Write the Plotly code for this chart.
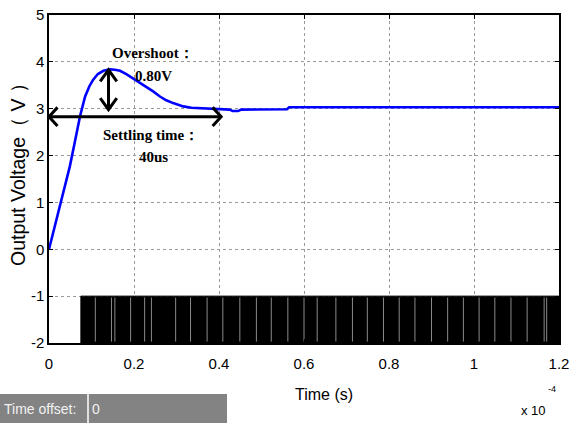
import plotly.graph_objects as go

# ---- data (time in units of 1e-4 s) ----
time_axis = [0, 0.013, 0.026, 0.038, 0.049, 0.061, 0.073, 0.085, 0.095, 0.104, 0.115,
             0.128, 0.144, 0.155, 0.167, 0.182, 0.198, 0.214, 0.230, 0.245, 0.261,
             0.276, 0.292, 0.316, 0.335, 0.355, 0.380, 0.402, 0.425, 0.432, 0.445,
             0.452, 0.48, 0.52, 0.56, 0.565, 0.6, 0.8, 1.0, 1.2]
voltage = [0, 0.47, 0.92, 1.35, 1.77, 2.30, 2.84, 3.26, 3.48, 3.62, 3.74,
           3.81, 3.84, 3.83, 3.81, 3.74, 3.65, 3.56, 3.47, 3.37, 3.26,
           3.18, 3.12, 3.05, 3.02, 3.01, 3.00, 2.99, 2.98, 2.95, 2.95,
           2.98, 2.98, 2.98, 2.99, 3.03, 3.03, 3.03, 3.03, 3.03]

pwm_start = 0.075
pwm_end = 1.2
pwm_low = -2
pwm_high = -1
pwm_gaps = [0.109, 0.147, 0.155, 0.192, 0.225, 0.241, 0.298, 0.333, 0.372, 0.409,
            0.449, 0.488, 0.523, 0.562, 0.600, 0.631, 0.675, 0.714, 0.749, 0.787,
            0.824, 0.861, 0.900, 0.938, 0.975, 1.012, 1.049, 1.087, 1.125, 1.165, 1.171]

overshoot_x = 0.14
overshoot_top = 3.83
overshoot_bottom = 2.98
settling_y = 2.83
settling_start = 0.0
settling_end = 0.405

x_ticks = [0, 0.2, 0.4, 0.6, 0.8, 1, 1.2]
x_tick_labels = ["0", "0.2", "0.4", "0.6", "0.8", "1", "1.2"]
y_ticks = [-2, -1, 0, 1, 2, 3, 4, 5]
y_tick_labels = ["-2", "-1", "0", "1", "2", "3", "4", "5"]

# ---- geometry helpers ----
L, R, T, B = 49, 10, 15, 80
W, H = 569, 423
PW, PH = W - L - R, H - T - B
XR = [0, 1.2]
YR = [-2, 5]
ux = (XR[1] - XR[0]) / PW   # data units per px
uy = (YR[1] - YR[0]) / PH

def px_x(px):
    return (px - L) / PW

def px_y(py):
    return (H - B - py) / PH

fig = go.Figure()

# PWM block
fig.add_trace(go.Scatter(
    x=[pwm_start, pwm_end, pwm_end, pwm_start, pwm_start],
    y=[pwm_low, pwm_low, pwm_high, pwm_high, pwm_low],
    fill="toself", fillcolor="black", mode="lines",
    line=dict(color="black", width=1), hoverinfo="skip"))
gx, gy = [], []
for g in pwm_gaps:
    gx += [g, g, None]
    gy += [pwm_low + 0.03, pwm_high - 0.03, None]
fig.add_trace(go.Scatter(x=gx, y=gy, mode="lines",
                         line=dict(color="#8a8a8a", width=1), hoverinfo="skip"))

# Output voltage
fig.add_trace(go.Scatter(x=time_axis, y=voltage, mode="lines",
                         line=dict(color="#0000ff", width=2.6)))

# Arrows (double-headed, open chevron heads)
hx, hy = 8.5 * ux, 9.3 * uy
ax_, ay_ = [], []
# horizontal
ax_ += [settling_start, settling_end, None]
ay_ += [settling_y, settling_y, None]
ax_ += [settling_start + hx, settling_start, settling_start + hx, None]
ay_ += [settling_y + hy, settling_y, settling_y - hy, None]
ax_ += [settling_end - hx, settling_end, settling_end - hx, None]
ay_ += [settling_y + hy, settling_y, settling_y - hy, None]
# vertical
vx, vy = 8.3 * ux, 11.5 * uy
ax_ += [overshoot_x, overshoot_x, None]
ay_ += [overshoot_bottom, overshoot_top, None]
ax_ += [overshoot_x - vx, overshoot_x, overshoot_x + vx, None]
ay_ += [overshoot_top - vy, overshoot_top, overshoot_top - vy, None]
ax_ += [overshoot_x - vx, overshoot_x, overshoot_x + vx, None]
ay_ += [overshoot_bottom + vy, overshoot_bottom, overshoot_bottom + vy, None]
fig.add_trace(go.Scatter(x=ax_, y=ay_, mode="lines",
                         line=dict(color="black", width=3), hoverinfo="skip"))

serif = "Liberation Serif, Times New Roman, serif"
sans = "Liberation Sans, Arial, sans-serif"
ann = [
    dict(x=0.245, y=4.19, text="<b>Overshoot：</b>", font=dict(family=serif, size=15)),
    dict(x=0.245, y=3.69, text="<b>0.80V</b>", font=dict(family=serif, size=15)),
    dict(x=0.240, y=2.43, text="<b>Settling time：</b>", font=dict(family=serif, size=15)),
    dict(x=0.245, y=1.97, text="<b>40us</b>", font=dict(family=serif, size=15)),
]
annotations = []
for a in ann:
    annotations.append(dict(xref="x", yref="y", showarrow=False,
                            xanchor="center", yanchor="middle",
                            font=dict(color="black", **a.pop("font")), **a))

annotations += [
    dict(xref="paper", yref="paper", x=px_x(18), y=px_y(170), text="Output Voltage（ V ）",
         textangle=-90, showarrow=False, xanchor="center", yanchor="middle",
         font=dict(family=sans, size=19.5, color="black")),
    dict(xref="paper", yref="paper", x=px_x(324), y=px_y(394), text="Time (s)",
         showarrow=False, xanchor="center", yanchor="middle",
         font=dict(family=sans, size=16, color="black")),
    dict(xref="paper", yref="paper", x=px_x(533), y=px_y(410), text="x 10",
         showarrow=False, xanchor="center", yanchor="middle",
         font=dict(family=sans, size=13, color="black")),
    dict(xref="paper", yref="paper", x=px_x(552), y=px_y(389), text="-4",
         showarrow=False, xanchor="center", yanchor="middle",
         font=dict(family=sans, size=9, color="black")),
    dict(xref="paper", yref="paper", x=px_x(2), y=px_y(409), text="Time offset:",
         showarrow=False, xanchor="left", yanchor="middle",
         font=dict(family=sans, size=14, color="#f2f2f2")),
    dict(xref="paper", yref="paper", x=px_x(90), y=px_y(409), text="0",
         showarrow=False, xanchor="left", yanchor="middle",
         font=dict(family=sans, size=14, color="#f2f2f2")),
]

shapes = [
    dict(type="rect", xref="paper", yref="paper", x0=px_x(0), x1=px_x(227),
         y0=px_y(423), y1=px_y(394), fillcolor="#838383", line=dict(width=0), layer="below"),
    dict(type="line", xref="paper", yref="paper", x0=px_x(88), x1=px_x(88),
         y0=px_y(423), y1=px_y(394), line=dict(color="white", width=1.5)),
]

axis_common = dict(showline=True, linecolor="black", linewidth=1.5, mirror="ticks",
                   ticks="inside", ticklen=4, tickcolor="black", automargin=False,
                   ticklabeloverflow="allow",
                   showgrid=True, gridcolor="#9a9a9a", griddash="dot", gridwidth=1,
                   zeroline=False, tickfont=dict(family=sans, size=15, color="black"))

fig.update_layout(
    template="none",
    width=W, height=H, margin=dict(l=L, r=R, t=T, b=B, autoexpand=False),
    paper_bgcolor="white", plot_bgcolor="white", showlegend=False,
    xaxis=dict(range=XR, tickvals=x_ticks, ticktext=x_tick_labels,
               ticklabelstandoff=6, **axis_common),
    yaxis=dict(range=YR, tickvals=y_ticks, ticktext=y_tick_labels, **axis_common),
    annotations=annotations, shapes=shapes,
)

fig.write_html("out.html", config={"displayModeBar": False},
               post_script="document.body.style.margin='0';document.body.style.overflow='hidden';")
